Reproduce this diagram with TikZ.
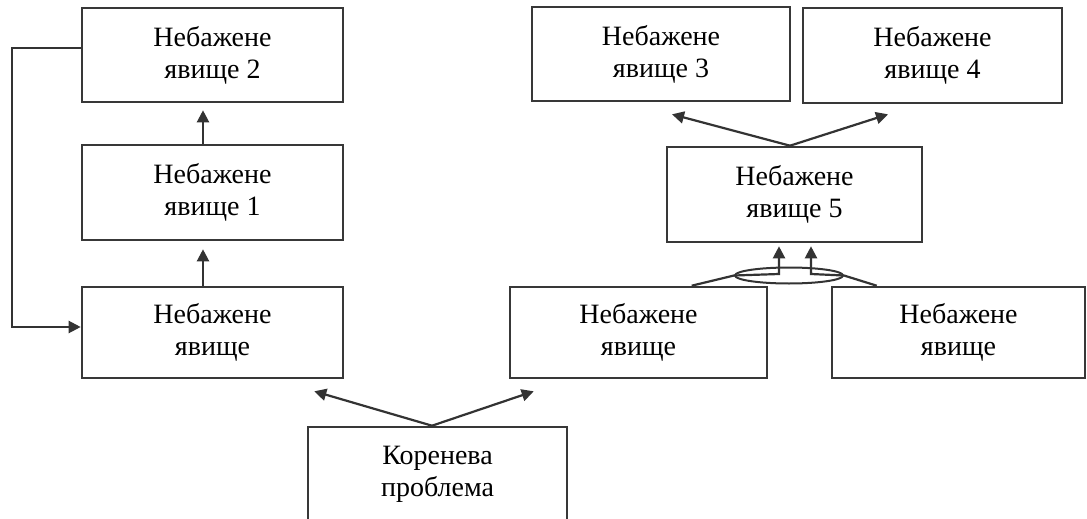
\documentclass[tikz,border=0pt]{standalone}
\usepackage{fontspec}
\setmainfont{Liberation Serif}
\usetikzlibrary{arrows.meta,calc,shapes.geometric}

\tikzset{
  box/.style={draw=black!78, line width=2.6pt, rectangle, inner sep=0pt,
              align=center, font=\fontsize{28}{32}\selectfont},
  arr/.style={draw=black!80, line width=2.2pt,
              -{Triangle[length=12pt,width=12pt]}},
}

\begin{document}
\begin{tikzpicture}[x=1pt,y=-1pt]
  \useasboundingbox (0,0) rectangle (1087,519);
  \fill[white] (0,0) rectangle (1087,519);

  % left chain
  \node[box, minimum width=261, minimum height=94] (n2) at (212.5,55)
        {Небажене\\явище 2};
  \node[box, minimum width=261, minimum height=95] (n1) at (212.5,192.5)
        {Небажене\\явище 1};
  \node[box, minimum width=261, minimum height=91] (n0) at (212.5,332.5)
        {Небажене\\явище};

  % root cause
  \node[box, minimum width=259, minimum height=94] (root) at (437.5,474)
        {Коренева\\проблема};

  % right branch
  \node[box, minimum width=258, minimum height=94] (n3) at (661,54)
        {Небажене\\явище 3};
  \node[box, minimum width=259, minimum height=95] (n4) at (932.5,55.5)
        {Небажене\\явище 4};
  \node[box, minimum width=255, minimum height=95] (n5) at (794.5,194.5)
        {Небажене\\явище 5};
  \node[box, minimum width=257, minimum height=91] (b1) at (638.5,332.5)
        {Небажене\\явище};
  \node[box, minimum width=253, minimum height=91] (b2) at (958.5,332.5)
        {Небажене\\явище};

  % AND junction
  \node[ellipse, draw=black!80, line width=2pt, inner sep=0pt,
        minimum width=108, minimum height=16] (andgate) at (789,275.5) {};

  % left chain arrows
  \draw[arr] ($(n0.north)+(-9.5,0)$) -- ($(n1.south)+(-9.5,8)$);
  \draw[arr] ($(n1.north)+(-9.5,0)$) -- ($(n2.south)+(-9.5,7)$);
  \draw[arr] ($(n2.west)+(0,-7)$) -- ++(-69,0) |- ($(n0.west)+(0,-5.5)$);

  % root to the two effects
  \draw[arr] ($(root.north)+(-5.5,0)$) -- ($(n0.south east)+(-30,12)$);
  \draw[arr] ($(root.north)+(-5.5,0)$) -- ($(b1.south west)+(25,12)$);

  % fifth effect to the third and fourth
  \draw[arr] ($(n5.north)+(-4.5,0)$) -- ($(n3.south)+(11,12)$);
  \draw[arr] ($(n5.north)+(-4.5,0)$) -- ($(n4.south)+(-44.5,10)$);

  % joint causes through the AND junction
  \draw[arr] ($(b1.north west)+(183,0)$) -- (andgate.west)
             -- ($(andgate.center)+(-10,-1.5)$) -- ($(n5.south)+(-15.5,3)$);
  \draw[arr] ($(b2.north west)+(46,0)$) -- (andgate.east)
             -- ($(andgate.center)+(22,-1.5)$) -- ($(n5.south)+(16.5,3)$);
\end{tikzpicture}
\end{document}
